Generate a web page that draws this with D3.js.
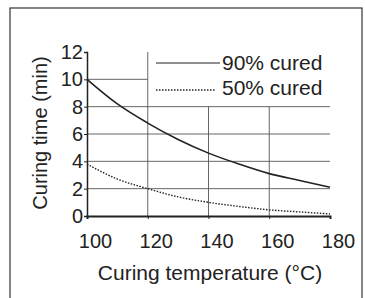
<!DOCTYPE html>
<html>
<head>
<meta charset="utf-8">
<script src="https://cdn.jsdelivr.net/npm/d3@7"></script>
<style>
  body { margin: 0; background: #fff; }
  text { font-family: "Liberation Sans", Arial, sans-serif; fill: #222; }
</style>
</head>
<body>
<svg id="chart" width="365" height="298"></svg>
<script>
// data
var temps = [100, 110, 120, 130, 140, 150, 160, 170, 180];
var cured90 = [10, 8.2, 6.8, 5.6, 4.6, 3.8, 3.1, 2.6, 2.1];
var cured50 = [3.8, 2.7, 2.0, 1.4, 1.0, 0.7, 0.45, 0.3, 0.15];
var xTicks = [100, 120, 140, 160, 180];
var yTicks = [0, 2, 4, 6, 8, 10, 12];
var seriesNames = ["90% cured", "50% cured"];

var svg = d3.select('#chart');
var ink = '#222';

// frame around the figure
svg.append('rect')
  .attr('x', 10).attr('y', 8)
  .attr('width', 352).attr('height', 295)
  .attr('fill', 'none')
  .attr('stroke', '#333')
  .attr('stroke-width', 1.2);

var pLeft = 87, pRight = 330, pTop = 52, pBottom = 216;

var x = d3.scaleLinear().domain([100, 180]).range([pLeft, pRight]);
var y = d3.scaleLinear().domain([0, 12]).range([pBottom, pTop]);

var grid = svg.append('g').attr('stroke', '#555').attr('stroke-width', 0.9);

// horizontal grid: 2..8 full width, 10 only up to 120
[2, 4, 6, 8].forEach(function (v) {
  grid.append('line')
    .attr('x1', x(100)).attr('x2', x(180))
    .attr('y1', y(v)).attr('y2', y(v));
});
grid.append('line')
  .attr('x1', x(100)).attr('x2', x(120))
  .attr('y1', y(10)).attr('y2', y(10));

// vertical grid: 120 full height, 140 and 160 up to 8
grid.append('line')
  .attr('x1', x(120)).attr('x2', x(120))
  .attr('y1', y(12)).attr('y2', y(0));
[140, 160].forEach(function (v) {
  grid.append('line')
    .attr('x1', x(v)).attr('x2', x(v))
    .attr('y1', y(8)).attr('y2', y(0));
});

// axes
var xAxis = d3.axisBottom(x).tickValues(xTicks).tickSize(3).tickPadding(15);
var yAxis = d3.axisLeft(y).tickValues(yTicks).tickSize(3).tickPadding(1);

var gx = svg.append('g')
  .attr('transform', 'translate(0,' + pBottom + ')')
  .call(xAxis);
gx.select('.domain').attr('stroke', ink).attr('stroke-width', 2);
gx.selectAll('.tick line').attr('stroke', ink);
gx.selectAll('text').style('font-size', '20px').attr('fill', ink).attr('dx', 8);

var gy = svg.append('g')
  .attr('transform', 'translate(' + pLeft + ',0)')
  .call(yAxis);
gy.select('.domain').attr('stroke', ink).attr('stroke-width', 1.5);
gy.selectAll('.tick line').attr('stroke', ink);
gy.selectAll('text').style('font-size', '20px').attr('fill', ink);

// curves
var line = d3.line()
  .x(function (d) { return x(d[0]); })
  .y(function (d) { return y(d[1]); })
  .curve(d3.curveMonotoneX);

svg.append('path')
  .datum(d3.zip(temps, cured90))
  .attr('d', line)
  .attr('fill', 'none')
  .attr('stroke', ink)
  .attr('stroke-width', 1.6);

svg.append('path')
  .datum(d3.zip(temps, cured50))
  .attr('d', line)
  .attr('fill', 'none')
  .attr('stroke', ink)
  .attr('stroke-width', 1.4)
  .attr('stroke-dasharray', '1.5,1.5');

// legend
var legend = svg.append('g');
legend.append('line')
  .attr('x1', 156).attr('x2', 220).attr('y1', 63).attr('y2', 63)
  .attr('stroke', ink).attr('stroke-width', 1.2);
legend.append('line')
  .attr('x1', 156).attr('x2', 216).attr('y1', 90).attr('y2', 90)
  .attr('stroke', ink).attr('stroke-width', 1.4)
  .attr('stroke-dasharray', '1.5,1.5');
legend.append('text')
  .attr('x', 222).attr('y', 70)
  .style('font-size', '21px')
  .text(seriesNames[0]);
legend.append('text')
  .attr('x', 222).attr('y', 95)
  .style('font-size', '21px')
  .text(seriesNames[1]);

// axis titles
svg.append('text')
  .attr('x', 210).attr('y', 280)
  .attr('text-anchor', 'middle')
  .style('font-size', '21px')
  .text('Curing temperature (°C)');

svg.append('text')
  .attr('transform', 'translate(47,133) rotate(-90)')
  .attr('text-anchor', 'middle')
  .style('font-size', '20px')
  .text('Curing time (min)');
</script>
</body>
</html>
